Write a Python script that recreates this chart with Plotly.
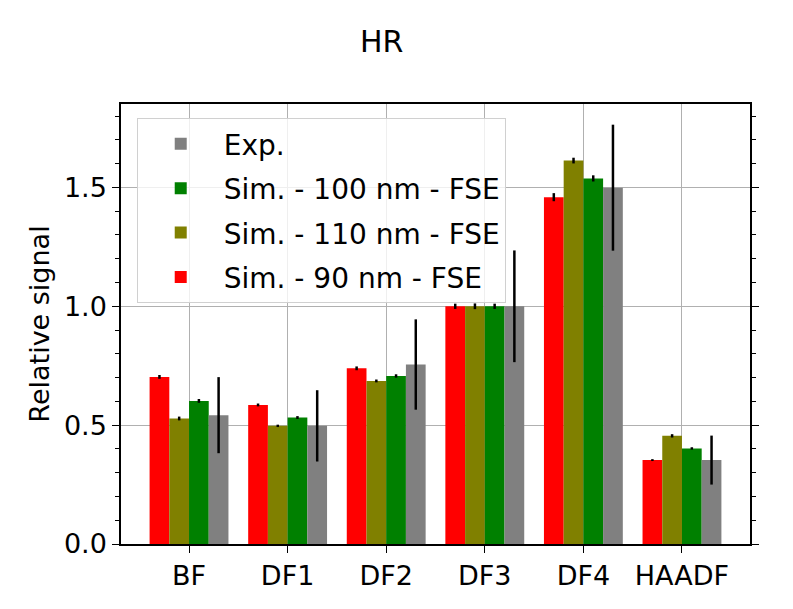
import plotly.graph_objects as go

categories = ["BF", "DF1", "DF2", "DF3", "DF4", "HAADF"]

sim_90 = [0.703, 0.585, 0.739, 1.0, 1.459, 0.353]
sim_90_err = [0.008, 0.006, 0.008, 0.011, 0.017, 0.004]
sim_110 = [0.528, 0.497, 0.686, 1.0, 1.613, 0.455]
sim_110_err = [0.008, 0.005, 0.006, 0.012, 0.012, 0.007]
sim_100 = [0.602, 0.532, 0.707, 1.0, 1.538, 0.402]
sim_100_err = [0.008, 0.006, 0.007, 0.011, 0.013, 0.005]
exp_vals = [0.542, 0.497, 0.755, 1.0, 1.499, 0.353]
exp_err = [0.16, 0.15, 0.19, 0.235, 0.265, 0.103]

series = [
    ("Sim. - 90 nm - FSE", sim_90, sim_90_err, "#ff0000"),
    ("Sim. - 110 nm - FSE", sim_110, sim_110_err, "#808000"),
    ("Sim. - 100 nm - FSE", sim_100, sim_100_err, "#008000"),
    ("Exp.", exp_vals, exp_err, "#808080"),
]

FONT = "DejaVu Sans"
fig = go.Figure()
n = len(series)
for i, (name, vals, errs, color) in enumerate(series):
    fig.add_trace(go.Bar(
        x=categories, y=vals, name=name, legendgroup=f"g{i}",
        legendrank=1000 + (n - i),
        marker=dict(color=color, line=dict(width=0)),
        error_y=dict(type="data", array=errs, visible=True,
                     color="black", thickness=2.5, width=0),
    ))

# page body adds 8px margin; figure sized/margined to compensate
fig.update_layout(
    width=785, height=601,
    margin=dict(l=113, r=43, t=96, b=65),
    paper_bgcolor="white", plot_bgcolor="white",
    font=dict(family=FONT, size=27, color="black"),
    title=dict(text="HR", x=0.476, xanchor="center", y=0.945, yanchor="middle",
               font=dict(family=FONT, size=30, color="black")),
    barmode="group", bargap=0.2, bargroupgap=0,
    showlegend=True,
    legend=dict(traceorder="grouped", x=0.025, y=0.968, xanchor="left", yanchor="top",
                bgcolor="rgba(255,255,255,0.8)", bordercolor="#d0d0d0", borderwidth=1,
                font=dict(family=FONT, size=28, color="black"),
                itemwidth=76, tracegroupgap=5),
)
fig.update_xaxes(
    type="category", range=[-0.69, 5.69],
    showline=True, linecolor="black", linewidth=1.5, mirror=True,
    ticks="outside", ticklen=7, tickwidth=1.2, tickcolor="black",
    showgrid=True, gridcolor="#b0b0b0", gridwidth=1,
    tickfont=dict(family=FONT, size=27, color="black"),
)
fig.update_yaxes(
    range=[0, 1.851], dtick=0.5, tick0=0, tickformat=".1f",
    showline=True, linecolor="black", linewidth=1.5, mirror="ticks",
    ticks="outside", ticklen=7, tickwidth=1.2, tickcolor="black",
    minor=dict(dtick=0.1, ticks="outside", ticklen=4, tickcolor="black", showgrid=False),
    showgrid=True, gridcolor="#b0b0b0", gridwidth=1,
    zeroline=False,
    tickfont=dict(family=FONT, size=27, color="black"),
    title=dict(text="Relative signal", font=dict(family=FONT, size=27, color="black"), standoff=6),
)

fig.write_html("out.html")
